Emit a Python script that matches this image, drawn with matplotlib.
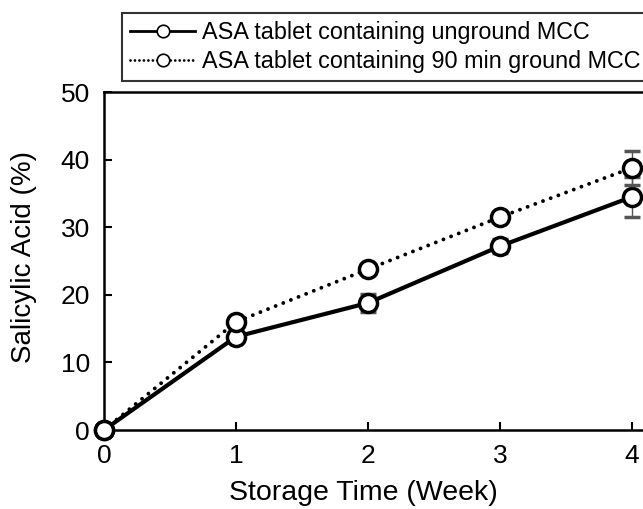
import matplotlib
matplotlib.use('Agg')
import matplotlib.pyplot as plt
from matplotlib.lines import Line2D

plt.rcParams['font.family'] = ['Liberation Sans', 'DejaVu Sans']

weeks = [0, 1, 2, 3, 4]
unground = [0, 13.8, 18.8, 27.2, 34.5]
unground_err = [0, 0.5, 1.3, 1.0, 3.0]
ground90 = [0, 16.0, 23.8, 31.5, 38.8]
ground90_err = [0, 0.4, 0.5, 0.6, 2.5]

labels = ['ASA tablet containing unground MCC',
          'ASA tablet containing 90 min ground MCC']

dotted = (0, (0.01, 2.1))

fig = plt.figure(figsize=(6.43, 5.09), dpi=100)
ax = fig.add_axes([0.1617, 0.1552, 0.842, 0.664])

ax.errorbar(weeks, unground, yerr=unground_err, color='black', lw=3,
            ls='-', marker='o', ms=13, mfc='white', mec='black', mew=2.5,
            ecolor='#555555', elinewidth=1, capsize=6, zorder=3, clip_on=False)
ax.errorbar(weeks, ground90, yerr=ground90_err, color='black', lw=2.8,
            ls=dotted, dash_capstyle='round', marker='o', ms=13,
            mfc='white', mec='black', mew=2.5,
            ecolor='#555555', elinewidth=1, capsize=6, zorder=4, clip_on=False)

ax.set_xlim(0, 4.1)
ax.set_ylim(0, 50)
ax.set_xticks([0, 1, 2, 3, 4])
ax.set_yticks([0, 10, 20, 30, 40, 50])
ax.tick_params(axis='x', direction='in', length=6, width=1.5, labelsize=19, pad=10)
ax.tick_params(axis='y', direction='in', length=6, width=1.5, labelsize=19, pad=10)
for s in ax.spines.values():
    s.set_linewidth(1.8)

ax.set_xlabel('Storage Time (Week)', fontsize=20.5)
ax.set_ylabel('Salicylic Acid (%)', fontsize=20)
ax.xaxis.set_label_coords(0.479, -0.148)
ax.yaxis.set_label_coords(-0.124, 0.512)

handles = [
    Line2D([], [], color='black', lw=2, ls='-', marker='o', ms=9,
           mfc='white', mec='black', mew=1.2),
    Line2D([], [], color='black', lw=2, ls=(0, (0.01, 1.6)), dash_capstyle='round',
           marker='o', ms=9, mfc='white', mec='black', mew=1.2),
]
leg = fig.legend(handles, labels, loc='upper left', mode='expand',
                 bbox_to_anchor=(122 / 643, 1 - 13 / 509, 540 / 643, 0),
                 fontsize=16.8, frameon=True, fancybox=False, edgecolor='black',
                 handlelength=2.8, handletextpad=0.3, borderpad=0.34,
                 labelspacing=0.26, borderaxespad=0)
leg.get_frame().set_linewidth(1.5)

fig.savefig('out.png', dpi=100)
